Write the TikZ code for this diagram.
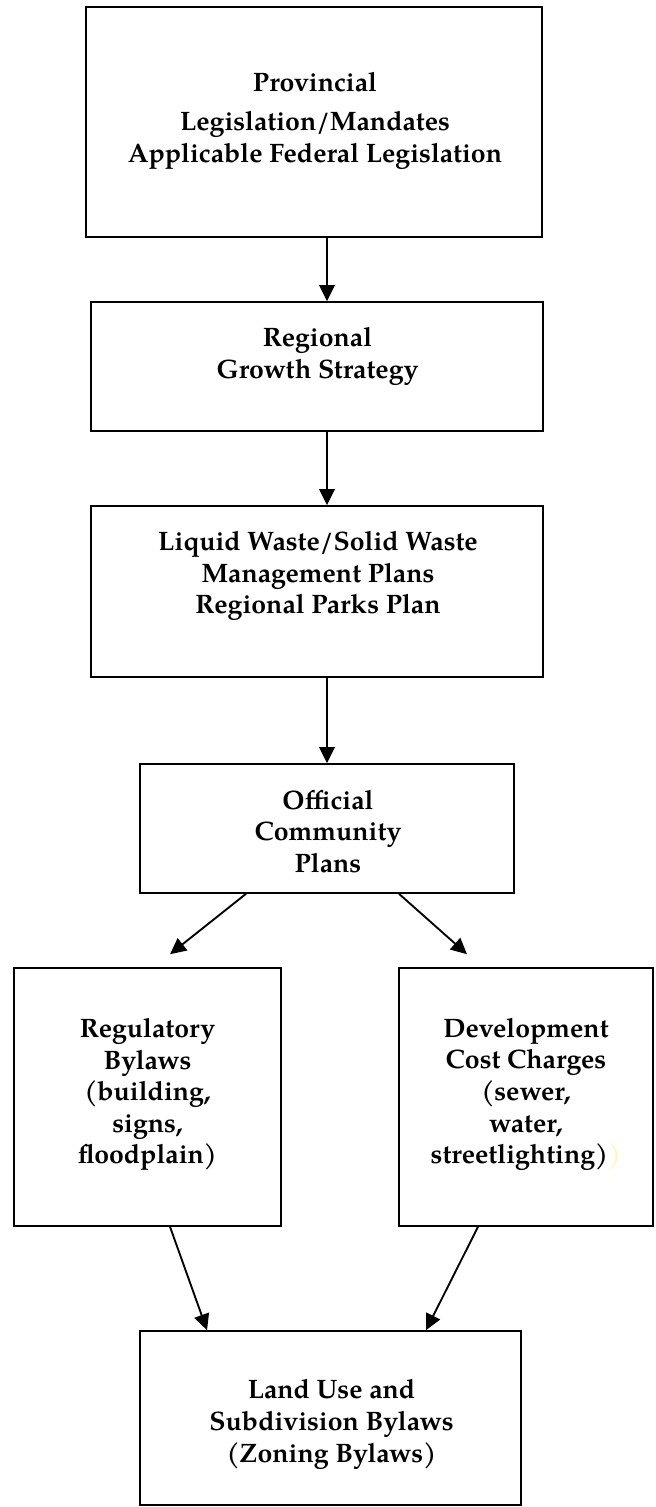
\documentclass[tikz,border=0pt]{standalone}
\usepackage{fontspec}
\setmainfont{TeX Gyre Pagella}
\usetikzlibrary{arrows.meta, positioning}
\definecolor{hilite}{HTML}{FFF6C0}

\begin{document}
\begin{tikzpicture}[
  x=0.75pt, y=-0.75pt,
  box/.style={draw, line width=1.2pt, inner sep=0pt},
  txt/.style={align=center, inner sep=0pt, font=\bfseries\fontsize{20}{23.7}\selectfont},
  arr/.style={-{Triangle[length=12pt,width=11.5pt]}, line width=1.4pt}
]
\useasboundingbox (0,0) rectangle (656,1507);

% boxes
\node[box, minimum width=342pt, minimum height=172.5pt] (prov) at (314,122) {};
\node[box, minimum width=339pt, minimum height=96.75pt] (rgs) at (317,366.5) {};
\node[box, minimum width=339pt, minimum height=128.25pt] (waste) at (317,591.5) {};
\node[box, minimum width=280.5pt, minimum height=96.75pt] (ocp) at (327,828.5) {};
\node[box, minimum width=200.25pt, minimum height=193.5pt] (reg) at (147.5,1097) {};
\node[box, minimum width=190.5pt, minimum height=193.5pt] (dcc) at (526,1097) {};
\node[box, minimum width=285.75pt, minimum height=130.5pt] (land) at (330.5,1418) {};

% texts
\node[txt] (provtxt) at (315,121) {Provincial\\[5.25pt]Legislation/Mandates\\Applicable Federal Legislation};
\node[txt] (rgstxt) at (317.5,356.5) {Regional\\Growth Strategy};
\node[txt] (wastetxt) at (318,576) {Liquid Waste/Solid Waste\\Management Plans\\Regional Parks Plan};
\node[txt] (ocptxt) at (328,831.5) {Official\\Community\\Plans};
\node[txt] (regtxt) at (147.5,1094.5) {Regulatory\\Bylaws\\(building,\\signs,\\floodplain)};
\node[txt] (dcctxt) at (526,1094.5) {Development\\Cost Charges\\(sewer,\\water,\\streetlighting)\textcolor{hilite}{)}};
\node[txt] (landtxt) at (331.5,1424.5) {Land Use and\\Subdivision Bylaws\\(Zoning Bylaws)};

% arrows
\draw[arr] (prov.south -| ocp) -- (rgs.north -| ocp);
\draw[arr] (rgs.south -| ocp) -- (waste.north -| ocp);
\draw[arr] (waste.south -| ocp) -- (ocp.north);
\draw[arr] ([xshift=-60.75pt]ocp.south) -- ([xshift=16.9pt,yshift=9.75pt]reg.north);
\draw[arr] ([xshift=54pt]ocp.south) -- ([xshift=-44.25pt,yshift=9.75pt]dcc.north);
\draw[arr] ([xshift=16.9pt]reg.south) -- ([xshift=-92.6pt]land.north);
\draw[arr] ([xshift=-36pt]dcc.south) -- ([xshift=71.6pt]land.north);
\end{tikzpicture}
\end{document}
